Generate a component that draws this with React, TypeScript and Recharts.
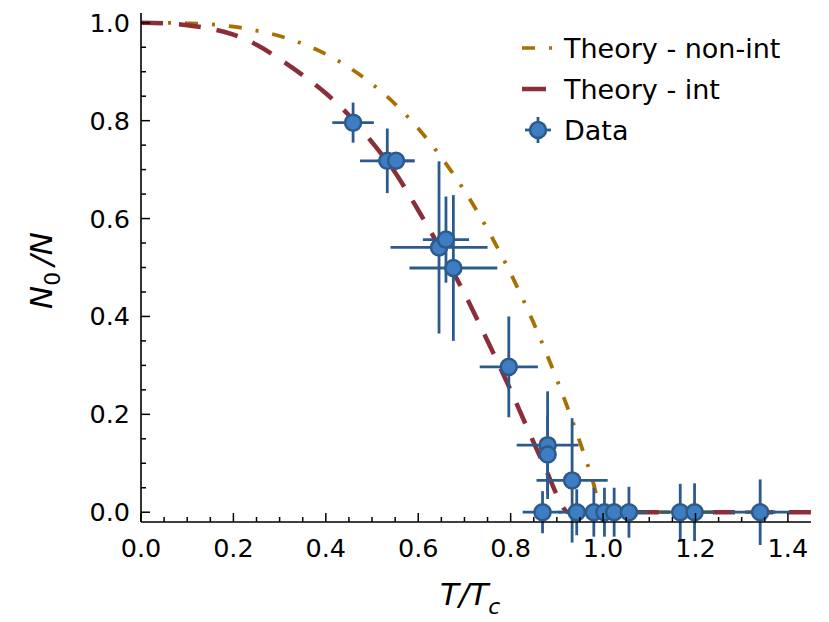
import {
  ComposedChart,
  ErrorBar,
  Label,
  Line,
  Scatter,
  XAxis,
  YAxis,
} from 'recharts';

// theory curves
const nonIntT = [0, 0.05, 0.1, 0.15, 0.2, 0.25, 0.3, 0.35, 0.4, 0.45, 0.5, 0.55, 0.6, 0.65, 0.7, 0.75, 0.8, 0.85, 0.9, 0.925, 0.95, 0.975, 1.0, 1.45];
const nonIntN0 = [1.0, 1.0, 0.999, 0.997, 0.992, 0.984, 0.973, 0.957, 0.936, 0.909, 0.875, 0.834, 0.784, 0.725, 0.657, 0.578, 0.488, 0.386, 0.271, 0.209, 0.143, 0.073, 0, 0];

const intT = [0, 0.05, 0.1, 0.15, 0.2, 0.25, 0.3, 0.35, 0.4, 0.45, 0.5, 0.55, 0.6, 0.65, 0.7, 0.75, 0.8, 0.85, 0.875, 0.9, 0.91, 0.925, 1.45];
const intN0 = [1.0, 0.999, 0.995, 0.988, 0.976, 0.955, 0.926, 0.893, 0.856, 0.811, 0.756, 0.694, 0.617, 0.535, 0.447, 0.35, 0.249, 0.142, 0.09, 0.035, 0.015, 0, 0];

// measured points
const dataT = [0.459, 0.533, 0.552, 0.645, 0.66, 0.676, 0.796, 0.88, 0.88, 0.933, 0.869, 0.943, 0.98, 1.003, 1.024, 1.056, 1.167, 1.198, 1.34];
const dataN0 = [0.796, 0.718, 0.718, 0.541, 0.557, 0.499, 0.297, 0.137, 0.118, 0.065, 0, 0, 0, 0, 0, 0, 0, 0, 0];
const dataTErr = [0.045, 0.059, 0.04, 0.105, 0.05, 0.095, 0.063, 0.067, 0, 0.077, 0.043, 0.04, 0.04, 0.04, 0.04, 0.04, 0.045, 0.045, 0.065];
const dataN0Err = [0.041, 0.066, 0, 0.176, 0.088, 0.149, 0.103, 0.11, 0.08, 0.127, 0.043, 0.047, 0.05, 0.05, 0.05, 0.052, 0.058, 0.059, 0.067];

const xTicks = [0, 0.05, 0.1, 0.15, 0.2, 0.25, 0.3, 0.35, 0.4, 0.45, 0.5, 0.55, 0.6, 0.65, 0.7, 0.75, 0.8, 0.85, 0.9, 0.95, 1.0, 1.05, 1.1, 1.15, 1.2, 1.25, 1.3, 1.35, 1.4];
const yTicks = [0, 0.05, 0.1, 0.15, 0.2, 0.25, 0.3, 0.35, 0.4, 0.45, 0.5, 0.55, 0.6, 0.65, 0.7, 0.75, 0.8, 0.85, 0.9, 0.95, 1.0];

const nonIntRows = nonIntT.map((t, i) => ({ t, v: nonIntN0[i] }));
const intRows = intT.map((t, i) => ({ t, v: intN0[i] }));
const pointRows = dataT.map((t, i) => ({ t, v: dataN0[i], xErr: dataTErr[i], yErr: dataN0Err[i] }));

const NONINT_COLOR = '#a87000';
const INT_COLOR = '#8b2e3a';
const FILL_COLOR = '#3e7dc1';
const EDGE_COLOR = '#2d5a8c';
const FONT = '"DejaVu Sans", sans-serif';
const TICK_FONT = 25.5;

const isMajor = (v: number) => Math.abs(v * 5 - Math.round(v * 5)) < 1e-6;
const tickLen = (v: number) => (isMajor(v) ? 9 : 5);

function BottomTick({ x, y, payload }: any) {
  const v = payload.value;
  return (
    <g>
      <line x1={x} x2={x} y1={y} y2={y - tickLen(v)} stroke="#000" strokeWidth={1.5} />
      {isMajor(v) && (
        <text x={x} y={y + 35} textAnchor="middle" fontSize={TICK_FONT} fontFamily={FONT} fill="#000">
          {v.toFixed(1)}
        </text>
      )}
    </g>
  );
}

function TopTick({ x, y, payload }: any) {
  return <line x1={x} x2={x} y1={y} y2={y + tickLen(payload.value)} stroke="#000" strokeWidth={1.5} />;
}

function LeftTick({ x, y, payload }: any) {
  const v = payload.value;
  return (
    <g>
      <line x1={x} x2={x + tickLen(v)} y1={y} y2={y} stroke="#000" strokeWidth={1.5} />
      {isMajor(v) && (
        <text x={x - 11} y={y + 9} textAnchor="end" fontSize={TICK_FONT} fontFamily={FONT} fill="#000">
          {v.toFixed(1)}
        </text>
      )}
    </g>
  );
}

function RightTick({ x, y, payload }: any) {
  return <line x1={x} x2={x - tickLen(payload.value)} y1={y} y2={y} stroke="#000" strokeWidth={1.5} />;
}

function DataDot({ cx, cy }: any) {
  return <circle cx={cx} cy={cy} r={8} fill={FILL_COLOR} stroke={EDGE_COLOR} strokeWidth={2.5} />;
}

function PlotLegend() {
  const text = { fontSize: 27, fontFamily: FONT, fill: '#000' };
  return (
    <svg
      width={829}
      height={622}
      style={{ position: 'absolute', left: 0, top: 0, pointerEvents: 'none' }}
    >
      <line x1={522} x2={535} y1={48} y2={48} stroke={NONINT_COLOR} strokeWidth={3.5} />
      <line x1={549} x2={552} y1={48} y2={48} stroke={NONINT_COLOR} strokeWidth={3.5} />
      <text x={564} y={58} {...text}>Theory - non-int</text>

      <line x1={522} x2={546} y1={89} y2={89} stroke={INT_COLOR} strokeWidth={4.5} />
      <text x={564} y={99} {...text}>Theory - int</text>

      <line x1={525} x2={551} y1={130} y2={130} stroke={EDGE_COLOR} strokeWidth={2.8} />
      <line x1={538} x2={538} y1={117} y2={143} stroke={EDGE_COLOR} strokeWidth={2.8} />
      <circle cx={538} cy={130} r={8} fill={FILL_COLOR} stroke={EDGE_COLOR} strokeWidth={2.5} />
      <text x={564} y={139.5} {...text}>Data</text>
    </svg>
  );
}

export default function App() {
  const axisLine = { stroke: '#000', strokeWidth: 1.6 };
  return (
    <div style={{ position: 'absolute', left: 0, top: 0, width: 829, height: 622, background: '#fff' }}>
      <ComposedChart width={829} height={622} margin={{ top: 13, right: 18, bottom: 0, left: 0 }}>
        <XAxis
          xAxisId="bottom"
          dataKey="t"
          type="number"
          domain={[0, 1.45]}
          allowDataOverflow
          ticks={xTicks}
          interval={0}
          height={100}
          tickSize={0}
          tickMargin={0}
          axisLine={axisLine}
          tickLine={false}
          tick={<BottomTick />}
        >
          <Label
            content={() => (
              <text x={440} y={605} fontSize={31} fontStyle="italic" fontFamily={FONT} fill="#000">
                T/T
                <tspan dy={9} fontSize={22}>c</tspan>
              </text>
            )}
          />
        </XAxis>
        <XAxis
          xAxisId="top"
          orientation="top"
          dataKey="t"
          type="number"
          domain={[0, 1.45]}
          allowDataOverflow
          ticks={xTicks}
          interval={0}
          height={0}
          tickSize={0}
          tickMargin={0}
          axisLine={axisLine}
          tickLine={false}
          tick={<TopTick />}
        />
        <YAxis
          yAxisId="left"
          dataKey="v"
          type="number"
          domain={[-0.02, 1.02]}
          allowDataOverflow
          ticks={yTicks}
          interval={0}
          width={141}
          tickSize={0}
          tickMargin={0}
          axisLine={axisLine}
          tickLine={false}
          tick={<LeftTick />}
        >
          <Label
            content={() => (
              <text
                transform="rotate(-90)"
                x={-309}
                y={52}
                fontSize={31}
                fontStyle="italic"
                fontFamily={FONT}
                fill="#000"
              >
                N
                <tspan dy={8} fontSize={22} fontStyle="normal">0</tspan>
                <tspan dy={-8} dx={6}>/N</tspan>
              </text>
            )}
          />
        </YAxis>
        <YAxis
          yAxisId="right"
          orientation="right"
          type="number"
          domain={[-0.02, 1.02]}
          allowDataOverflow
          ticks={yTicks}
          interval={0}
          width={0}
          tickSize={0}
          tickMargin={0}
          axisLine={axisLine}
          tickLine={false}
          tick={<RightTick />}
        />
        <Line
          xAxisId="bottom"
          yAxisId="left"
          data={nonIntRows}
          dataKey="v"
          type="monotone"
          stroke={NONINT_COLOR}
          strokeWidth={3.8}
          strokeDasharray="13 14 3 14"
          dot={false}
          activeDot={false}
          isAnimationActive={false}
        />
        <Line
          xAxisId="bottom"
          yAxisId="left"
          data={intRows}
          dataKey="v"
          type="monotone"
          stroke={INT_COLOR}
          strokeWidth={4.5}
          strokeDasharray="22 16"
          dot={false}
          activeDot={false}
          isAnimationActive={false}
        />
        <Scatter
          xAxisId="bottom"
          yAxisId="left"
          data={pointRows}
          dataKey="v"
          shape={<DataDot />}
          isAnimationActive={false}
        >
          <ErrorBar dataKey="xErr" direction="x" width={0} stroke={EDGE_COLOR} strokeWidth={2.8} />
          <ErrorBar dataKey="yErr" direction="y" width={0} stroke={EDGE_COLOR} strokeWidth={2.8} />
        </Scatter>
      </ComposedChart>
      <PlotLegend />
    </div>
  );
}
